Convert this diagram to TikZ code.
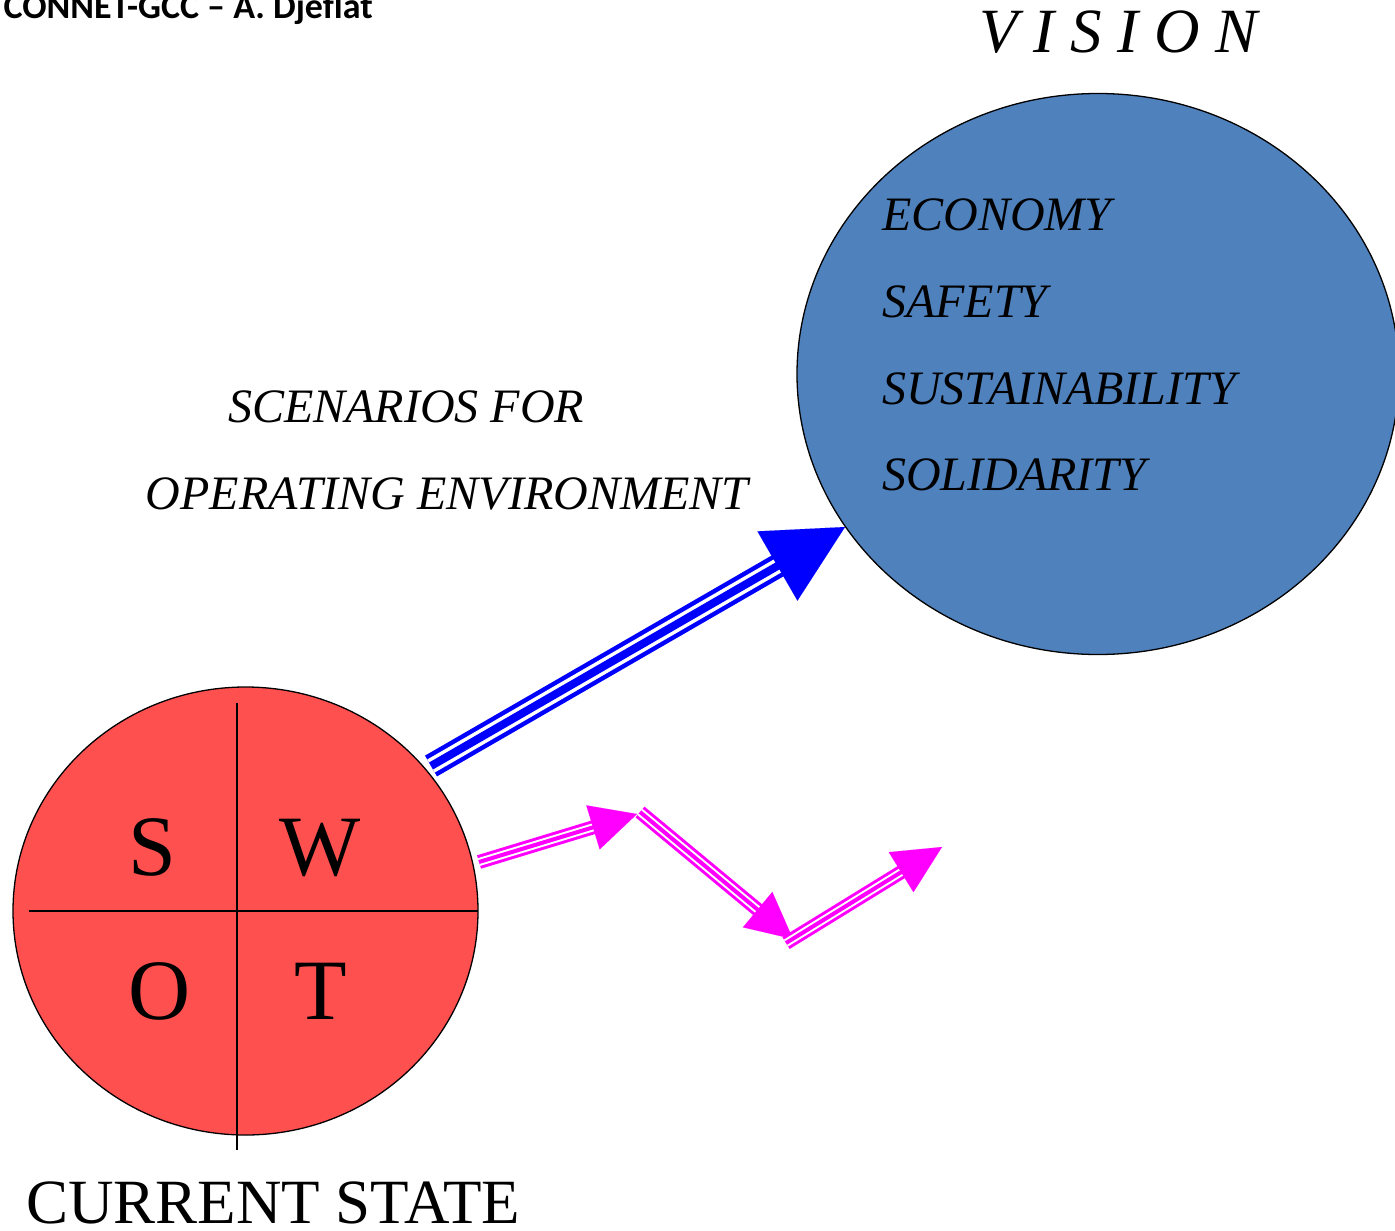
\documentclass[tikz,border=0pt]{standalone}
\usepackage{fontspec}
\setmainfont{Liberation Serif}
\newfontfamily\hdrfont{Carlito}
\usetikzlibrary{shapes.geometric,arrows.meta}
\definecolor{swotred}{HTML}{FF5050}
\definecolor{visblue}{HTML}{4F81BD}
\definecolor{arrblue}{HTML}{0000FF}
\definecolor{arrmag}{HTML}{FF00FF}
\newcommand\triarrow[9]{%
  \draw[#1, line width=#2pt, shorten >=#9pt] (#7) -- (#8);
  \draw[white, line width=#3pt, shorten >=#9pt] (#7) -- (#8);
  \draw[#1, line width=#4pt, shorten >=#9pt] (#7) -- (#8);
  \draw[#1, line width=0.01pt, -{Triangle[length=#5pt,width=#6pt]}] (#7) -- (#8);
}
\tikzset{
  sizetxt/.style={font=\fontsize{48}{56}\selectfont\itshape, inner sep=0pt},
  swotletter/.style={font=\fontsize{86}{90}\selectfont, inner sep=0pt, anchor=base},
}
\begin{document}
\begin{tikzpicture}[x=1pt,y=-1pt]
\useasboundingbox (0,0) rectangle (1395,1231);
\begin{scope}
\clip (0,0) rectangle (1395,1231);
% header
\node[font=\hdrfont\bfseries\fontsize{36}{40}\selectfont, anchor=base east, inner sep=0pt] (hdr) at (373,19) {CONNET-GCC – A. Djeflat};
% vision ellipse
\node[ellipse, draw=black, line width=1.3pt, fill=visblue, minimum width=602pt, minimum height=561pt, inner sep=0pt] (vision) at (1098,374) {};
\end{scope}
\node[font=\fontsize{63}{66}\selectfont\itshape, anchor=base west, inner sep=0pt] (vtitle) at (979,53) {V I S I O N};
\node[sizetxt, anchor=base west] (eco) at (882,230) {ECONOMY};
\node[sizetxt, anchor=base west] (saf) at (882,317) {SAFETY};
\node[sizetxt, anchor=base west] (sus) at (882,404) {SUSTAINABILITY};
\node[sizetxt, anchor=base west] (sol) at (882,490) {SOLIDARITY};
% scenarios text
\node[sizetxt, anchor=base] (scen1) at (406,422) {SCENARIOS FOR};
\node[sizetxt, anchor=base] (scen2) at (447,509) {OPERATING ENVIRONMENT};
% swot circle
\node[ellipse, draw=black, line width=1.3pt, fill=swotred, minimum width=465pt, minimum height=448pt, inner sep=0pt] (swot) at (245.5,911) {};
\coordinate (vtop) at (237,703);
\coordinate (vbot) at (237,1150);
\coordinate (hleft) at (29,911);
\coordinate (hright) at (478,911);
\draw[line width=2.2pt] (vtop) -- (vbot);
\draw[line width=2.2pt] (hleft) -- (hright);
\node[swotletter] (S) at (152,875) {S};
\node[swotletter] (W) at (320,875) {W};
\node[swotletter] (O) at (160,1019) {O};
\node[swotletter] (T) at (321,1019) {T};
\node[font=\fontsize{63}{66}\selectfont, anchor=base west, inner sep=0pt] (cur) at (26,1223) {CURRENT STATE};
% blue arrow
\coordinate (b0) at (431,766);
\coordinate (b1) at (845,527);
\triarrow{arrblue}{24}{15}{8}{78}{80}{b0}{b1}{70}
% magenta arrows
\coordinate (m0) at (479,862);
\coordinate (m1) at (637,814);
\coordinate (m2) at (640,812);
\coordinate (m3) at (793,939);
\coordinate (m4) at (786,943);
\coordinate (m5) at (942,847);
\triarrow{arrmag}{14}{8}{4}{46}{46}{m0}{m1}{40}
\triarrow{arrmag}{14}{8}{4}{46}{46}{m2}{m3}{40}
\triarrow{arrmag}{14}{8}{4}{48}{47}{m4}{m5}{42}
\end{tikzpicture}
\end{document}
